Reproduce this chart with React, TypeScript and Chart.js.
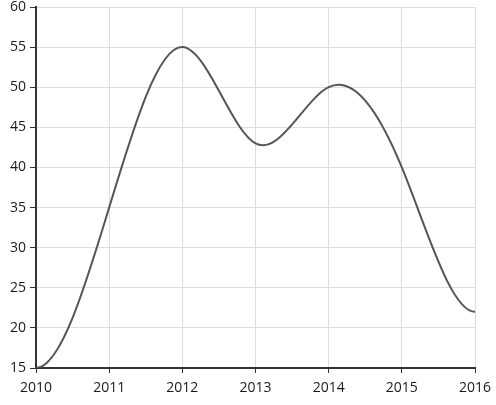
import React, { useEffect, useRef } from 'react';
import Chart from 'chart.js/auto';

const years: string[] = ['2010', '2011', '2012', '2013', '2014', '2015', '2016'];
const values: number[] = [15, 35, 55, 43, 50, 40, 22];
const yTicks: number[] = [15, 20, 25, 30, 35, 40, 45, 50, 55, 60];

// Clamped cubic spline (zero slope at both ends), written as bezier control points
const clampedSpline = {
    id: 'clampedSpline',
    beforeDatasetDraw(chart: any, args: any) {
        const meta = chart.getDatasetMeta(args.index);
        const line = meta.dataset;
        if (line && typeof line.updateControlPoints === 'function') {
            line.updateControlPoints(chart.chartArea, meta.iScale.axis);
        }
        const pts = meta.data;
        const n = pts.length;
        if (n < 3) {
            return;
        }
        const h: number[] = [];
        const d: number[] = [];
        for (let i = 0; i < n - 1; i++) {
            h.push(pts[i + 1].x - pts[i].x);
            d.push((pts[i + 1].y - pts[i].y) / h[i]);
        }
        // solve for slopes m[1..n-2], m[0] = m[n-1] = 0
        const m: number[] = new Array(n).fill(0);
        const a: number[] = [];
        const b: number[] = [];
        const c: number[] = [];
        const r: number[] = [];
        for (let i = 1; i < n - 1; i++) {
            a.push(h[i]);
            b.push(2 * (h[i - 1] + h[i]));
            c.push(h[i - 1]);
            r.push(3 * (h[i] * d[i - 1] + h[i - 1] * d[i]));
        }
        const k = r.length;
        for (let i = 1; i < k; i++) {
            const w = a[i] / b[i - 1];
            b[i] -= w * c[i - 1];
            r[i] -= w * r[i - 1];
        }
        const s: number[] = new Array(k).fill(0);
        s[k - 1] = r[k - 1] / b[k - 1];
        for (let i = k - 2; i >= 0; i--) {
            s[i] = (r[i] - c[i] * s[i + 1]) / b[i];
        }
        for (let i = 0; i < k; i++) {
            m[i + 1] = s[i];
        }
        for (let i = 0; i < n; i++) {
            const p = pts[i];
            const hl = i > 0 ? h[i - 1] / 3 : 0;
            const hr = i < n - 1 ? h[i] / 3 : 0;
            p.cp1x = p.x - hl;
            p.cp1y = p.y - m[i] * hl;
            p.cp2x = p.x + hr;
            p.cp2y = p.y + m[i] * hr;
        }
        if (line) {
            line._pointsUpdated = true;
            line._path = undefined;
        }
    },
};

const App = () => {
    const chartRef = useRef<HTMLCanvasElement | null>(null);

    useEffect(() => {
        document.body.style.margin = '0';
        if (!chartRef.current) {
            return;
        }
        const ctx = chartRef.current.getContext('2d');
        if (!ctx) {
            return;
        }

        const tickFont = { family: 'Open Sans', size: 14 };

        const chart = new Chart(ctx, {
            type: 'line',
            data: {
                labels: years,
                datasets: [{
                    data: values,
                    borderColor: '#555555',
                    borderWidth: 2,
                    pointRadius: 0,
                    tension: 0.4,
                    fill: false,
                }],
            },
            options: {
                animation: false,
                responsive: false,
                devicePixelRatio: 1,
                layout: {
                    padding: { top: 7, right: 21, left: 0, bottom: 0 },
                },
                plugins: {
                    legend: { display: false },
                    tooltip: { enabled: false },
                },
                scales: {
                    x: {
                        offset: false,
                        grid: {
                            color: '#dddddd',
                            tickColor: '#333333',
                            tickLength: 5,
                        },
                        border: { color: '#333333', width: 2 },
                        ticks: {
                            color: '#1a1a1a',
                            font: tickFont,
                            maxRotation: 0,
                            padding: 7,
                        },
                        afterFit: (scale: any) => {
                            scale.height = 37;
                            scale.paddingLeft = 0;
                            scale.paddingRight = 0;
                        },
                    },
                    y: {
                        min: 15,
                        max: 60,
                        afterBuildTicks: (scale: any) => {
                            scale.ticks = yTicks.map(v => ({ value: v }));
                        },
                        grid: {
                            color: '#dddddd',
                            tickColor: '#333333',
                            tickLength: 6,
                        },
                        border: { color: '#333333', width: 2 },
                        ticks: {
                            color: '#1a1a1a',
                            font: tickFont,
                            padding: 4,
                        },
                        afterFit: (scale: any) => {
                            scale.width = 36;
                            scale.paddingTop = 0;
                            scale.paddingBottom = 0;
                        },
                    },
                },
            },
            plugins: [clampedSpline],
        });

        return () => {
            chart.destroy();
        };
    }, []);

    return (
        <div style={{ width: 496, height: 405 }}>
            <canvas ref={chartRef} width={496} height={405} />
        </div>
    );
};

export default App;
